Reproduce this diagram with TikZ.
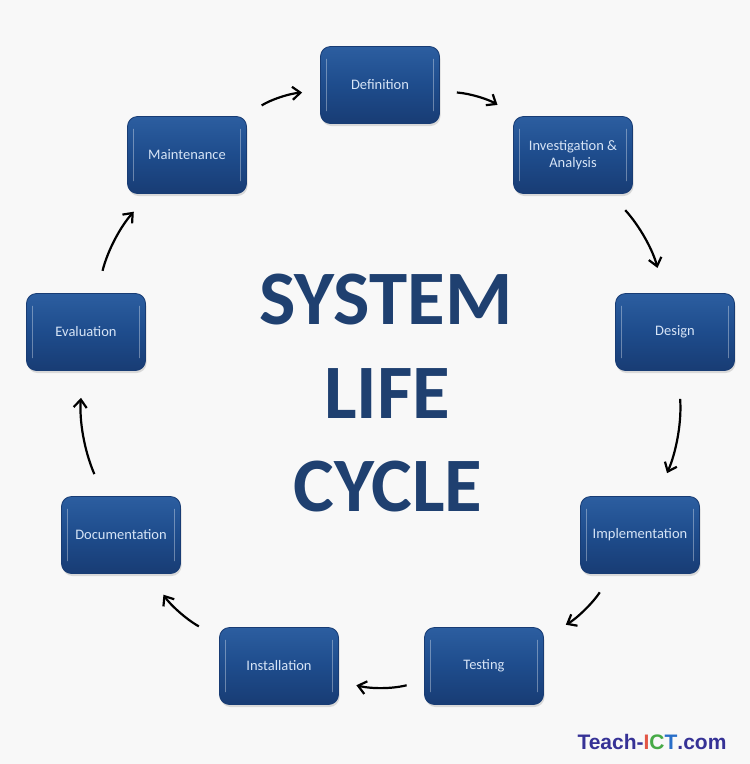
\documentclass[tikz,border=0pt]{standalone}
\usepackage{fontspec}
\setmainfont{Carlito}
\newfontfamily\marcafont{Liberation Sans}
\usetikzlibrary{arrows.meta,shadows}

\definecolor{fondo}{RGB}{248,248,248}
\definecolor{cajaazul}{RGB}{30,76,140}
\definecolor{cajaclaro}{RGB}{44,94,160}
\definecolor{cajaoscuro}{RGB}{24,60,116}
\definecolor{textocaja}{RGB}{214,228,246}
\definecolor{titulo}{RGB}{31,64,112}
\definecolor{marcaazul}{RGB}{54,50,150}
\definecolor{marcarojo}{RGB}{226,86,70}
\definecolor{marcaverde}{RGB}{70,170,70}
\definecolor{marcacian}{RGB}{40,110,200}

\tikzset{
  etapa/.style={rounded corners=10pt, minimum width=119pt, minimum height=77pt,
    draw=cajaoscuro, line width=0.8pt,
    top color=cajaclaro, bottom color=cajaoscuro, middle color=cajaazul,
    text=textocaja, font=\fontsize{14.5}{17}\selectfont, align=center,
    drop shadow={shadow xshift=1pt, shadow yshift=-2.5pt, opacity=0.25},
    path picture={
      \draw[white, opacity=0.35, line width=1.8pt, line cap=round]
        ([xshift=6pt,yshift=-13pt]path picture bounding box.north west)
        -- ([xshift=6pt,yshift=13pt]path picture bounding box.south west);
      \draw[white, opacity=0.35, line width=1.8pt, line cap=round]
        ([xshift=-6pt,yshift=-13pt]path picture bounding box.north east)
        -- ([xshift=-6pt,yshift=13pt]path picture bounding box.south east);
    }},
  flecha/.style={-{Straight Barb[length=8pt,width=13pt]}, line width=2.2pt, black},
  titular/.style={text=titulo, font=\fontsize{77}{80}\selectfont\bfseries}
}

\begin{document}
\begin{tikzpicture}[x=1pt,y=1pt]
    % Fondo
    \fill[fondo] (0,0) rectangle (750,-764);
    \useasboundingbox (0,0) rectangle (750,-764);

    % Etapas del ciclo
    \node[etapa] (defn) at (380,-85) {Definition};
    \node[etapa] (inv) at (573,-155) {Investigation \&\\Analysis};
    \node[etapa] (design) at (675,-332) {Design};
    \node[etapa] (impl) at (640,-535) {Implementation};
    \node[etapa] (testing) at (484,-666) {Testing};
    \node[etapa] (install) at (279,-666) {Installation};
    \node[etapa] (doc) at (121,-535) {Documentation};
    \node[etapa] (eval) at (86,-332) {Evaluation};
    \node[etapa] (maint) at (187,-155) {Maintenance};

    % Flechas entre etapas
    \foreach \a/\b/\s/\e in {maint/defn/20/18, defn/inv/17/21, inv/design/22/26,
        design/impl/28/25, impl/testing/22/25, testing/install/18/18,
        install/doc/23/25, doc/eval/24/27, eval/maint/23/24}
        \draw[flecha, shorten <=\s pt, shorten >=\e pt] (\a) to[bend left=14] (\b);

    % Titulo central
    \node[titular] (sistema) at (386,-300) {SYSTEM};
    \node[titular] (vida) at (387,-394) {LIFE};
    \node[titular] (ciclo) at (388,-487) {CYCLE};

    % Marca
    \node[font=\marcafont\bfseries\fontsize{21}{24}\selectfont] (marca) at (652,-742)
        {\textcolor{marcaazul}{Teach-}\textcolor{marcarojo}{I}\textcolor{marcaverde}{C}\textcolor{marcacian}{T}\textcolor{marcaazul}{.com}};
\end{tikzpicture}
\end{document}
